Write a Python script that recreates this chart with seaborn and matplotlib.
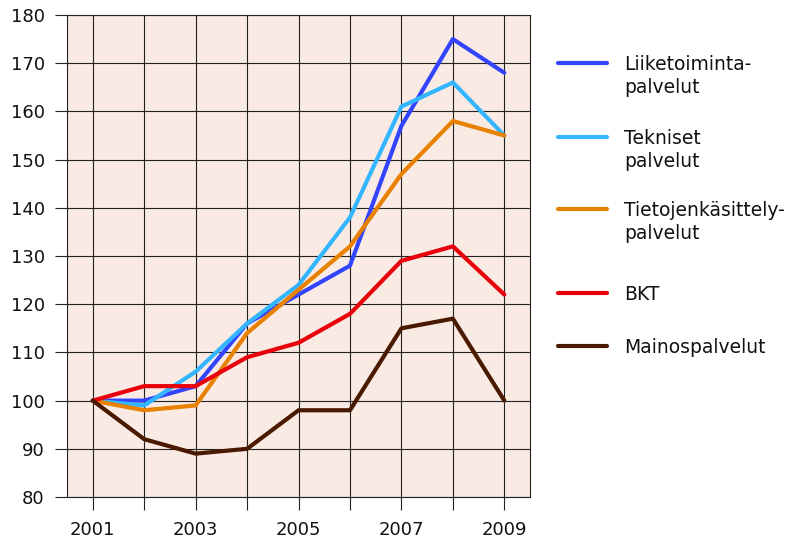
import pandas as pd
import matplotlib.pyplot as plt
import seaborn as sns
from matplotlib.lines import Line2D

# Data (index, 2001 = 100)
years = [2001, 2002, 2003, 2004, 2005, 2006, 2007, 2008, 2009]
liiketoiminta = [100, 100, 103, 116, 122, 128, 157, 175, 168]
tekniset = [100, 99, 106, 116, 124, 138, 161, 166, 155]
tietojenkasittely = [100, 98, 99, 114, 123, 132, 147, 158, 155]
bkt = [100, 103, 103, 109, 112, 118, 129, 132, 122]
mainos = [100, 92, 89, 90, 98, 98, 115, 117, 100]

series_names = ["Liiketoiminta-\npalvelut", "Tekniset\npalvelut",
                "Tietojenkäsittely-\npalvelut", "BKT", "Mainospalvelut"]
series_values = [liiketoiminta, tekniset, tietojenkasittely, bkt, mainos]
colors = ["#3344ff", "#33b5ff", "#e88000", "#e8000a", "#4a1a00"]

rows = []
for name, vals in zip(series_names, series_values):
    for y, v in zip(years, vals):
        rows.append({"Vuosi": y, "Indeksi": v, "Sarja": name})
df = pd.DataFrame(rows)

sns.set_style("white")
plt.rcParams["font.family"] = ["DejaVu Sans"]

fig = plt.figure(figsize=(7.96, 5.39), dpi=100)
ax = fig.add_axes([0.0842, 0.0779, 0.5817, 0.8943])
ax.set_facecolor("#f9ebe3")

sns.lineplot(
    data=df,
    x="Vuosi",
    y="Indeksi",
    hue="Sarja",
    hue_order=series_names,
    palette=colors,
    linewidth=3,
    legend=False,
    ax=ax,
    zorder=3
)

ax.set_xlim(2000.5, 2009.5)
ax.set_ylim(80, 180)
ax.set_xticks(years)
ax.set_xticklabels([str(y) if y % 2 == 1 else "" for y in years])
ax.set_yticks(range(80, 181, 10))
ax.grid(True, color="#222222", linewidth=0.8, zorder=1)
ax.tick_params(axis="both", direction="out", length=9, width=0.8,
               color="#222222", labelsize=13, pad=7, labelcolor="#111111")
ax.tick_params(axis="y", left=True)
ax.tick_params(axis="x", bottom=True, pad=8)
ax.set_xlabel("")
ax.set_ylabel("")
for s in ax.spines.values():
    s.set_color("#222222")
    s.set_linewidth(0.8)

# Legend drawn to the right of the plot
legend_y = [63, 137, 209, 293, 346]
W, H = 796, 539
for name, col, ly in zip(series_names, colors, legend_y):
    fy = 1 - ly / H
    fig.add_artist(Line2D([558 / W, 607 / W], [fy, fy], color=col,
                          linewidth=3, solid_capstyle="round"))
    fig.text(624 / W, 1 - (ly - 8) / H, name, fontsize=13.5, va="top",
             ha="left", linespacing=1.25, color="#111111")

plt.savefig("out.png", dpi=100)
